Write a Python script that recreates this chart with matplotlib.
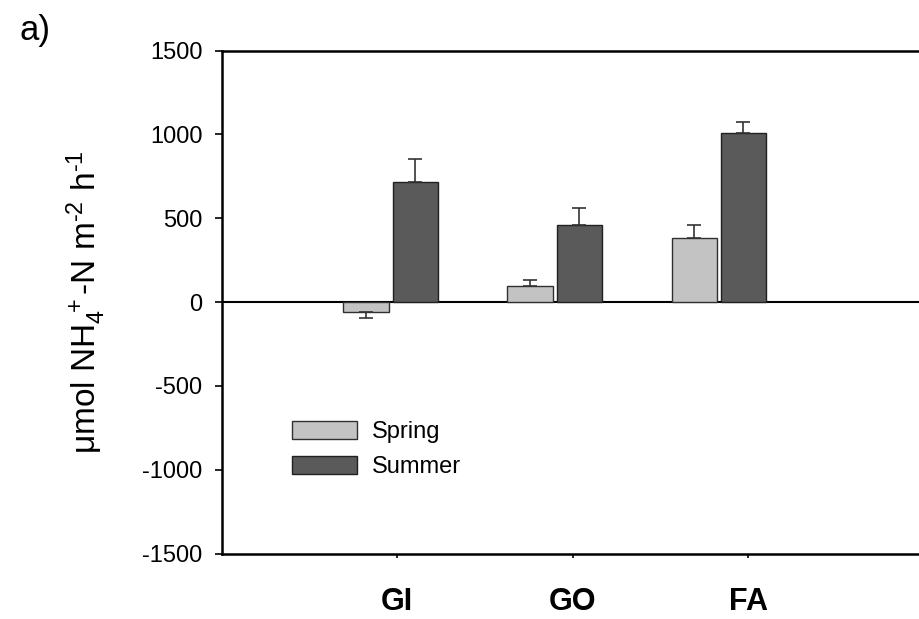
import numpy as np
import matplotlib
matplotlib.use("Agg")
import matplotlib.pyplot as plt

plt.rcParams['font.family'] = ['Liberation Sans', 'DejaVu Sans']
plt.rcParams['mathtext.fontset'] = 'custom'
plt.rcParams['mathtext.rm'] = 'Liberation Sans'
plt.rcParams['mathtext.it'] = 'Liberation Sans'
plt.rcParams['axes.unicode_minus'] = False

# NH4+ flux per site, spring vs summer
sites = ["GI", "GO", "FA"]
spring = [-60, 97, 384]
summer = [717, 459, 1006]
spring_err = [35, 35, 75]
summer_err = [135, 100, 70]

x = np.arange(len(sites))
w = 0.275

fig = plt.figure(figsize=(9.19, 6.19), dpi=100)
ax = fig.add_axes([0.2416, 0.1058, 0.7584, 0.8126])

ax.bar(x - 0.15, spring, w, color='#c3c3c3', edgecolor='#303030', linewidth=1.0, label='Spring')
ax.bar(x + 0.15, summer, w, color='#5a5a5a', edgecolor='#202020', linewidth=1.0, label='Summer')

# error bars only point away from zero
sp_lo = [e if v < 0 else 0 for v, e in zip(spring, spring_err)]
sp_hi = [0 if v < 0 else e for v, e in zip(spring, spring_err)]
ax.errorbar(x - 0.15, spring, yerr=[sp_lo, sp_hi], fmt='none', ecolor='#333333',
            elinewidth=1.2, capsize=5, capthick=1.2)
ax.errorbar(x + 0.15, summer, yerr=[[0] * 3, summer_err], fmt='none', ecolor='#333333',
            elinewidth=1.2, capsize=5, capthick=1.2)

ax.axhline(0, color='black', linewidth=1.5, zorder=0.5)

ax.set_xlim(-1.027, 3.22)
ax.set_ylim(-1500, 1500)
ax.set_yticks([-1500, -1000, -500, 0, 500, 1000, 1500])
ax.tick_params(axis='y', direction='out', length=5, width=1.2, labelsize=17, pad=9)

# site labels sit a little right of the bar groups
ax.set_xticks(x * 1.07 + 0.04)
ax.set_xticklabels(sites, fontsize=22, fontweight='bold')
ax.tick_params(axis='x', direction='out', length=3, width=1.2, pad=21)

for s in ['top', 'bottom', 'left']:
    ax.spines[s].set_linewidth(1.8)
ax.spines['right'].set_visible(False)

ax.set_ylabel(r'$\mathregular{\mu mol\ NH_4^{\ +}\text{-}N\ m^{\text{-}2}\ h^{\text{-}1}}$',
              fontsize=24, labelpad=25)

ax.legend(loc='upper left', bbox_to_anchor=(0.07, 0.305), frameon=False, fontsize=17,
          handlelength=2.75, handleheight=0.75, labelspacing=0.55, handletextpad=0.65)

fig.text(0.021, 0.935, 'a)', fontsize=25)

fig.savefig('out.png', dpi=100)
